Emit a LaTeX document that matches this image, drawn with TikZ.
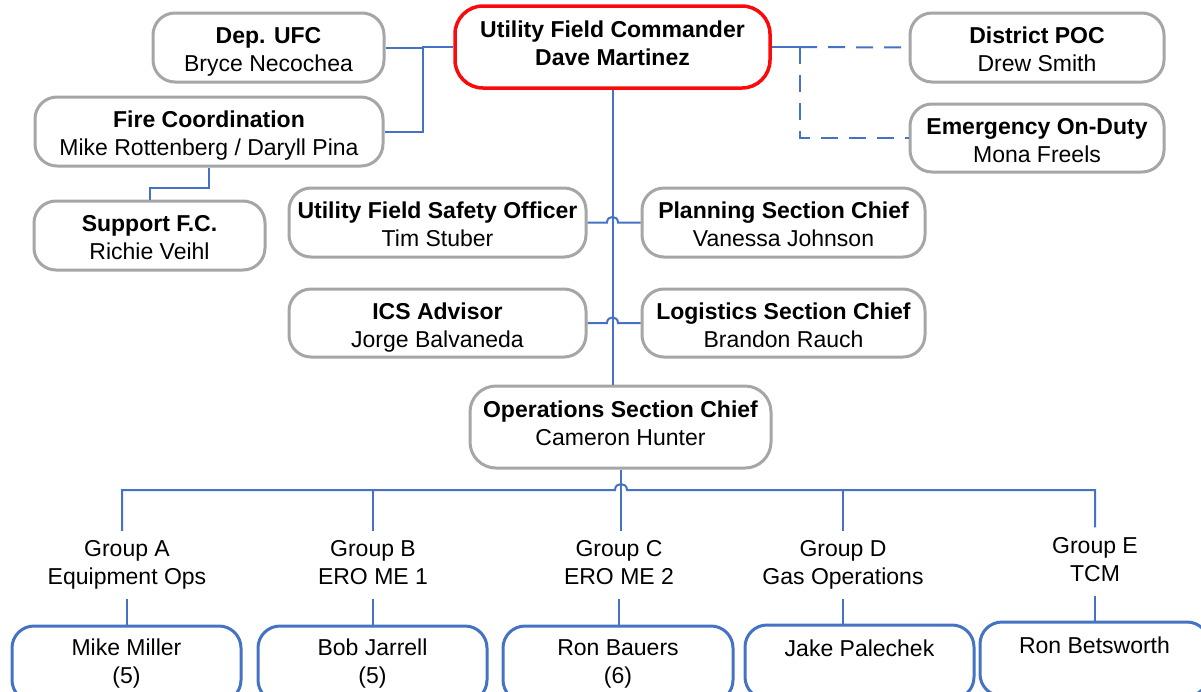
\documentclass[tikz,border=0pt]{standalone}
\usepackage{fontspec}
\setmainfont{Liberation Sans}
\definecolor{boxgray}{RGB}{166,166,166}
\definecolor{lineblue}{RGB}{68,114,196}
\definecolor{ufcred}{RGB}{250,10,10}
\newcommand{\topline}{\rule{0pt}{25pt}}
\newcommand{\botline}{\rule[-5pt]{0pt}{5pt}}
\newcommand{\deepline}{\rule[-16.4pt]{0pt}{16.4pt}}
\begin{document}
\begin{tikzpicture}[x=1pt,y=-1pt,
  txt/.style={font=\fontsize{23}{28}\selectfont, align=center, inner sep=0pt, text=black},
  graybox/.style={txt, draw=boxgray, line width=3pt, rounded corners=22pt, fill=white},
  redbox/.style={txt, draw=ufcred, line width=3.5pt, rounded corners=28pt, fill=white},
  bluebox/.style={txt, draw=lineblue, line width=3pt, rounded corners=22pt, fill=white},
  grouplabel/.style={txt, inner xsep=2pt, inner ysep=6pt},
  link/.style={draw=lineblue, line width=2pt},
  dashlink/.style={link, dash pattern=on 17pt off 11pt},
]
\useasboundingbox (0,0) rectangle (1201,691);
\clip (0,0) rectangle (1201,691);
\fill[white] (0,0) rectangle (1201,691);

% top level
\node[redbox, minimum width=315pt, minimum height=82pt] (ufc) at (612.5,47)
  {\topline\textbf{Utility Field Commander}\\\textbf{Dave Martinez}\deepline};
\node[graybox, minimum width=231pt, minimum height=69pt] (dep) at (268.5,47.5)
  {\topline\textbf{Dep. UFC}\\Bryce Necochea\botline};
\node[graybox, minimum width=348pt, minimum height=69pt] (fire) at (209,131.5)
  {\topline\textbf{Fire Coordination}\\Mike Rottenberg / Daryll Pina\botline};
\node[graybox, minimum width=231pt, minimum height=69pt] (sup) at (149.5,235.5)
  {\topline\textbf{Support F.C.}\\Richie Veihl\botline};
\node[graybox, minimum width=254pt, minimum height=69pt] (poc) at (1037,47.5)
  {\topline\textbf{District POC}\\Drew Smith\botline};
\node[graybox, minimum width=254pt, minimum height=68pt] (eod) at (1037,138)
  {\topline\textbf{Emergency On-Duty}\\Mona Freels\botline};

% staff
\node[graybox, minimum width=297pt, minimum height=69pt] (ufso) at (437.5,222.5)
  {\topline\textbf{Utility Field Safety Officer}\\Tim Stuber\botline};
\node[graybox, minimum width=283pt, minimum height=69pt] (psc) at (783.5,222.5)
  {\topline\textbf{Planning Section Chief}\\Vanessa Johnson\botline};
\node[graybox, minimum width=297pt, minimum height=68pt] (ics) at (437.5,323)
  {\topline\textbf{ICS Advisor}\\Jorge Balvaneda\botline};
\node[graybox, minimum width=283pt, minimum height=68pt] (lsc) at (783.5,323)
  {\topline\textbf{Logistics Section Chief}\\Brandon Rauch\botline};
\node[graybox, minimum width=301pt, minimum height=82pt, rounded corners=26pt] (ops) at (620.5,427)
  {\topline\textbf{Operations Section Chief}\\Cameron Hunter\deepline};

% groups
\node[grouplabel] (gA) at (127,565) {\strut Group A\\\strut Equipment Ops};
\node[grouplabel] (gB) at (373,565) {\strut Group B\\\strut ERO ME 1};
\node[grouplabel] (gC) at (619,565) {\strut Group C\\\strut ERO ME 2};
\node[grouplabel] (gD) at (843,565) {\strut Group D\\\strut Gas Operations};
\node[grouplabel] (gE) at (1095,561.5) {\strut Group E\\\strut TCM};

% leaders
\node[bluebox, minimum width=229pt, minimum height=76pt] (mm) at (126.5,664) {Mike Miller\\(5)};
\node[bluebox, minimum width=229pt, minimum height=76pt] (bj) at (372.5,664) {Bob Jarrell\\(5)};
\node[bluebox, minimum width=230pt, minimum height=76pt] (rb) at (618,664) {Ron Bauers\\(6)};
\node[bluebox, minimum width=229pt, minimum height=74pt] (jp) at (859.5,662) {Jake Palechek\\\mbox{}};
\node[bluebox, minimum width=229pt, minimum height=74pt] (rbe) at (1094.5,659) {Ron Betsworth\\\mbox{}};

% connectors: left side
\coordinate (jl) at (423,47);
\draw[link] (ufc.west) -- (jl) |- (fire.east);
\draw[link] (dep.east) -- (dep.east -| jl);
\draw[link] (fire.south) -- ++(0,20) -| (sup.north);

% connectors: right side (dashed)
\coordinate (jr) at (800,47);
\draw[link] (ufc.east) -- (jr);
\draw[dashlink] (jr) -- (poc.west);
\draw[dashlink] (jr) |- (eod.west);

% trunk
\draw[link] (ufc.south) -- (ufc.south |- ops.north);

% staff links with hops over the trunk
\draw[link] (ufso.east) -- (607,222.5) .. controls +(0,-7.5) and +(0,-7.5) .. (618,222.5) -- (psc.west);
\draw[link] (ics.east) -- (607,323) .. controls +(0,-7.5) and +(0,-7.5) .. (618,323) -- (lsc.west);

% operations to groups
\coordinate (bA) at (122,490);
\coordinate (bB) at (373,490);
\coordinate (bD) at (843,490);
\coordinate (bE) at (1095,490);
\draw[link] (ops.south) -- (ops.south |- gC.north);
\draw[link] (bA |- gA.north) -- (bA) -- (615,490) .. controls +(0,-8) and +(0,-8) .. (627,490) -- (bE) -- (bE |- gE.north);
\draw[link] (bB) -- (bB |- gB.north);
\draw[link] (bD) -- (bD |- gD.north);

% groups to leaders
\draw[link] (gA.south) -- (gA.south |- mm.north);
\draw[link] (gB.south) -- (gB.south |- bj.north);
\draw[link] (gC.south) -- (gC.south |- rb.north);
\draw[link] (gD.south) -- (gD.south |- jp.north);
\draw[link] (gE.south) -- (gE.south |- rbe.north);
\end{tikzpicture}
\end{document}
